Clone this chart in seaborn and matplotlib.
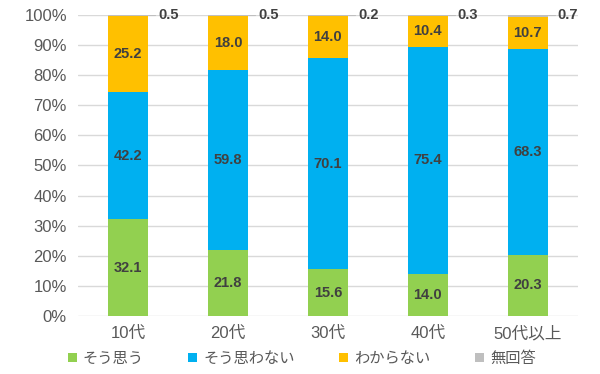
import matplotlib
matplotlib.use("Agg")
import matplotlib.pyplot as plt
import seaborn as sns
import pandas as pd
import numpy as np

ages = ["10代", "20代", "30代", "40代", "50代以上"]
sou_omou = [32.1, 21.8, 15.6, 14.0, 20.3]
sou_omowanai = [42.2, 59.8, 70.1, 75.4, 68.3]
wakaranai = [25.2, 18.0, 14.0, 10.4, 10.7]
mukaitou = [0.5, 0.5, 0.2, 0.3, 0.7]

series = ["そう思う", "そう思わない", "わからない", "無回答"]
colors = ["#92D050", "#00B0F0", "#FFC000", "#BFBFBF"]

df = pd.DataFrame({"age": ages, series[0]: sou_omou, series[1]: sou_omowanai,
                   series[2]: wakaranai, series[3]: mukaitou})

sns.set_style("white")
plt.rcParams["font.family"] = ["Liberation Sans", "Noto Sans CJK JP", "DejaVu Sans"]

fig, ax = plt.subplots(figsize=(6, 3.74), dpi=100)
fig.subplots_adjust(left=0.13, right=0.963, top=0.96, bottom=0.155)

bottom = np.zeros(len(ages))
for name, col in zip(series, colors):
    vals = df[name].values
    sns.barplot(ax=ax, x=df["age"], y=vals, bottom=bottom, color=col,
                saturation=1, width=0.4, label=name, linewidth=0, zorder=3)
    for i, v in enumerate(vals):
        if name == "無回答":
            top = bottom[i] + v
            ax.plot([i + 0.2, i + 0.27], [top, top], color="#BFBFBF", lw=0.8, zorder=3)
            ax.text(i + 0.3, top, f"{v:.1f}", ha="left", va="center",
                    fontsize=10.5, fontweight="bold", color="#404040")
        else:
            ax.text(i, bottom[i] + v / 2, f"{v:.1f}", ha="center", va="center",
                    fontsize=10.5, fontweight="bold", color="#404040")
    bottom = bottom + vals

ax.set_xlim(-0.5, 4.5)
ax.set_ylim(0, 100)
ax.set_yticks(np.arange(0, 101, 10))
ax.set_yticklabels([f"{t}%" for t in range(0, 101, 10)])
ax.yaxis.grid(True, color="#D9D9D9", lw=1, zorder=0)
ax.set_xlabel("")
ax.set_ylabel("")
for s in ax.spines.values():
    s.set_visible(False)
ax.tick_params(axis="both", length=0, labelsize=12, colors="#595959", pad=8)
ax.tick_params(axis="x", pad=7)

handles, labels = ax.get_legend_handles_labels()
if ax.legend_:
    ax.legend_.remove()
fig.legend(handles, labels, loc="lower center", ncol=4, frameon=False,
           bbox_to_anchor=(0.503, -0.015), fontsize=11, handlelength=0.6,
           handleheight=0.6, handletextpad=0.4, columnspacing=2.9,
           labelcolor="#595959")

fig.savefig("out.png", dpi=100)
